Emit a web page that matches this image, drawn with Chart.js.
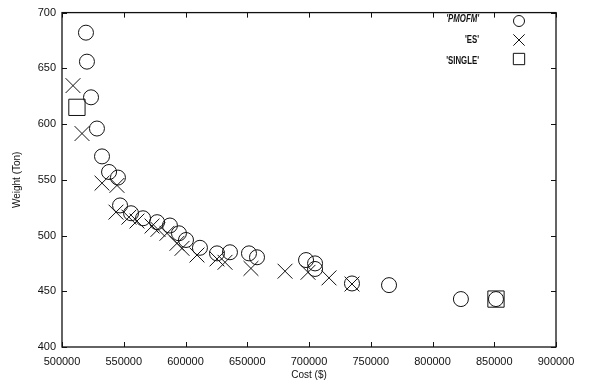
<!DOCTYPE html>
<html lang="en">
<head>
    <meta charset="UTF-8">
    <title>Weight vs Cost</title>
    <script src="https://cdn.jsdelivr.net/npm/chart.js"></script>
    <style>
        body { margin: 0; background: #fff; }
    </style>
</head>
<body>
    <canvas id="pareto-chart" width="590" height="385"></canvas>

    <script>
        // values
        const pmofmCost = [519400, 520200, 523500, 528300, 532400, 538100, 545300, 547000, 555900, 565600,
            577000, 587400, 594700, 600400, 611700, 625500, 636000, 651400, 657900, 697600,
            704900, 704900, 734800, 764800, 823000, 851400];
        const pmofmWeight = [682, 656, 624, 596, 571, 557, 552, 527, 520, 515.5,
            512, 509, 502, 496, 489, 484, 485, 484, 480.5, 478,
            475, 470, 457, 455.5, 443, 443];

        const esCost = [508900, 516200, 532400, 544500, 543700, 554200, 560700, 572900, 577700, 585000,
            593100, 597200, 609300, 625500, 632000, 653000, 680600, 699200, 716200, 734800];
        const esWeight = [634.5, 591.5, 547, 545, 521, 516.5, 513, 508.5, 505.5, 502,
            493, 488.5, 482.5, 479, 476, 470.5, 468, 467, 462, 456.5];

        const singleCost = [512100, 851400];
        const singleWeight = [615, 443];

        const xTicks = [500000, 550000, 600000, 650000, 700000, 750000, 800000, 850000, 900000];
        const yTicks = [400, 450, 500, 550, 600, 650, 700];

        const seriesNames = ["'PMOFM'", "'ES'", "'SINGLE'"];
        const keySizes = [5.5, 8, 8];

        function toPoints(xs, ys) {
            return xs.map((x, i) => ({ x: x, y: ys[i] }));
        }

        const FONT = 'Liberation Sans, Arial, sans-serif';

        // box round the plot with small inward ticks on all four sides
        const framePlugin = {
            id: 'frame',
            afterDraw(chart) {
                const ctx = chart.ctx;
                const a = chart.chartArea;
                const xs = chart.scales.x;
                const ys = chart.scales.y;
                ctx.save();
                ctx.strokeStyle = '#111';
                ctx.lineWidth = 1.3;
                ctx.strokeRect(a.left, a.top, a.right - a.left, a.bottom - a.top);
                ctx.lineWidth = 1;
                ctx.beginPath();
                xTicks.forEach(v => {
                    const px = Math.round(xs.getPixelForValue(v)) + 0.5;
                    ctx.moveTo(px, a.bottom); ctx.lineTo(px, a.bottom - 5);
                    ctx.moveTo(px, a.top); ctx.lineTo(px, a.top + 5);
                });
                yTicks.forEach(v => {
                    const py = Math.round(ys.getPixelForValue(v)) + 0.5;
                    ctx.moveTo(a.left, py); ctx.lineTo(a.left + 5, py);
                    ctx.moveTo(a.right, py); ctx.lineTo(a.right - 5, py);
                });
                ctx.stroke();
                ctx.restore();
            }
        };

        // gnuplot style key: label on the left, marker on the right
        const keyPlugin = {
            id: 'key',
            afterDatasetsDraw(chart) {
                const ctx = chart.ctx;
                const a = chart.chartArea;
                const textRight = a.right - 77;
                const markX = a.right - 37;
                const rows = [19, 40, 61];
                const markY = [21, 40, 59];
                ctx.save();
                ctx.textAlign = 'right';
                ctx.textBaseline = 'middle';
                chart.data.datasets.forEach((ds, i) => {
                    ctx.save();
                    ctx.fillStyle = '#111';
                    ctx.translate(textRight, rows[i]);
                    ctx.scale(0.78, 1);
                    ctx.font = (i === 0 ? 'italic bold ' : 'bold ') + '10px ' + FONT;
                    ctx.fillText(seriesNames[i], 0, 0);
                    ctx.restore();
                    ctx.strokeStyle = '#111';
                    ctx.fillStyle = 'rgba(0,0,0,0)';
                    ctx.lineWidth = 1;
                    Chart.helpers.drawPoint(ctx, {
                        pointStyle: ds.pointStyle,
                        radius: keySizes[i],
                        rotation: 0,
                        borderWidth: 1
                    }, markX, markY[i]);
                });
                ctx.restore();
            }
        };

        const ctx = document.getElementById('pareto-chart').getContext('2d');
        new Chart(ctx, {
            type: 'scatter',
            data: {
                datasets: [
                    {
                        label: seriesNames[0],
                        data: toPoints(pmofmCost, pmofmWeight),
                        pointStyle: 'circle',
                        pointRadius: 7.5,
                        borderColor: '#111',
                        backgroundColor: 'rgba(0,0,0,0)',
                        borderWidth: 1
                    },
                    {
                        label: seriesNames[1],
                        data: toPoints(esCost, esWeight),
                        pointStyle: 'crossRot',
                        pointRadius: 10.5,
                        borderColor: '#111',
                        backgroundColor: 'rgba(0,0,0,0)',
                        borderWidth: 1
                    },
                    {
                        label: seriesNames[2],
                        data: toPoints(singleCost, singleWeight),
                        pointStyle: 'rect',
                        pointRadius: 11.5,
                        borderColor: '#111',
                        backgroundColor: 'rgba(0,0,0,0)',
                        borderWidth: 1
                    }
                ]
            },
            options: {
                responsive: false,
                animation: false,
                devicePixelRatio: 1,
                layout: { padding: { top: 12, right: 34, bottom: 0, left: 0 } },
                plugins: {
                    legend: { display: false },
                    tooltip: { enabled: false }
                },
                scales: {
                    x: {
                        type: 'linear',
                        min: 500000,
                        max: 900000,
                        afterBuildTicks: s => { s.ticks = xTicks.map(v => ({ value: v })); },
                        afterFit: s => { s.height = 38; },
                        grid: { display: false, drawTicks: false },
                        border: { display: false },
                        ticks: {
                            padding: 8,
                            color: '#111',
                            maxRotation: 0,
                            font: { family: FONT, size: 11 },
                            callback: v => String(v)
                        },
                        title: {
                            display: true,
                            text: 'Cost ($)',
                            color: '#111',
                            font: { family: FONT, size: 10 },
                            padding: { top: 0, bottom: 4 }
                        }
                    },
                    y: {
                        type: 'linear',
                        min: 400,
                        max: 700,
                        afterBuildTicks: s => { s.ticks = yTicks.map(v => ({ value: v })); },
                        afterFit: s => { s.width = 62; },
                        grid: { display: false, drawTicks: false },
                        border: { display: false },
                        ticks: {
                            padding: 6,
                            color: '#111',
                            font: { family: FONT, size: 11 }
                        },
                        title: {
                            display: true,
                            text: 'Weight (Ton)',
                            color: '#111',
                            font: { family: FONT, size: 10 },
                            padding: { top: 11, bottom: 0 }
                        }
                    }
                }
            },
            plugins: [framePlugin, keyPlugin]
        });
    </script>
</body>
</html>
